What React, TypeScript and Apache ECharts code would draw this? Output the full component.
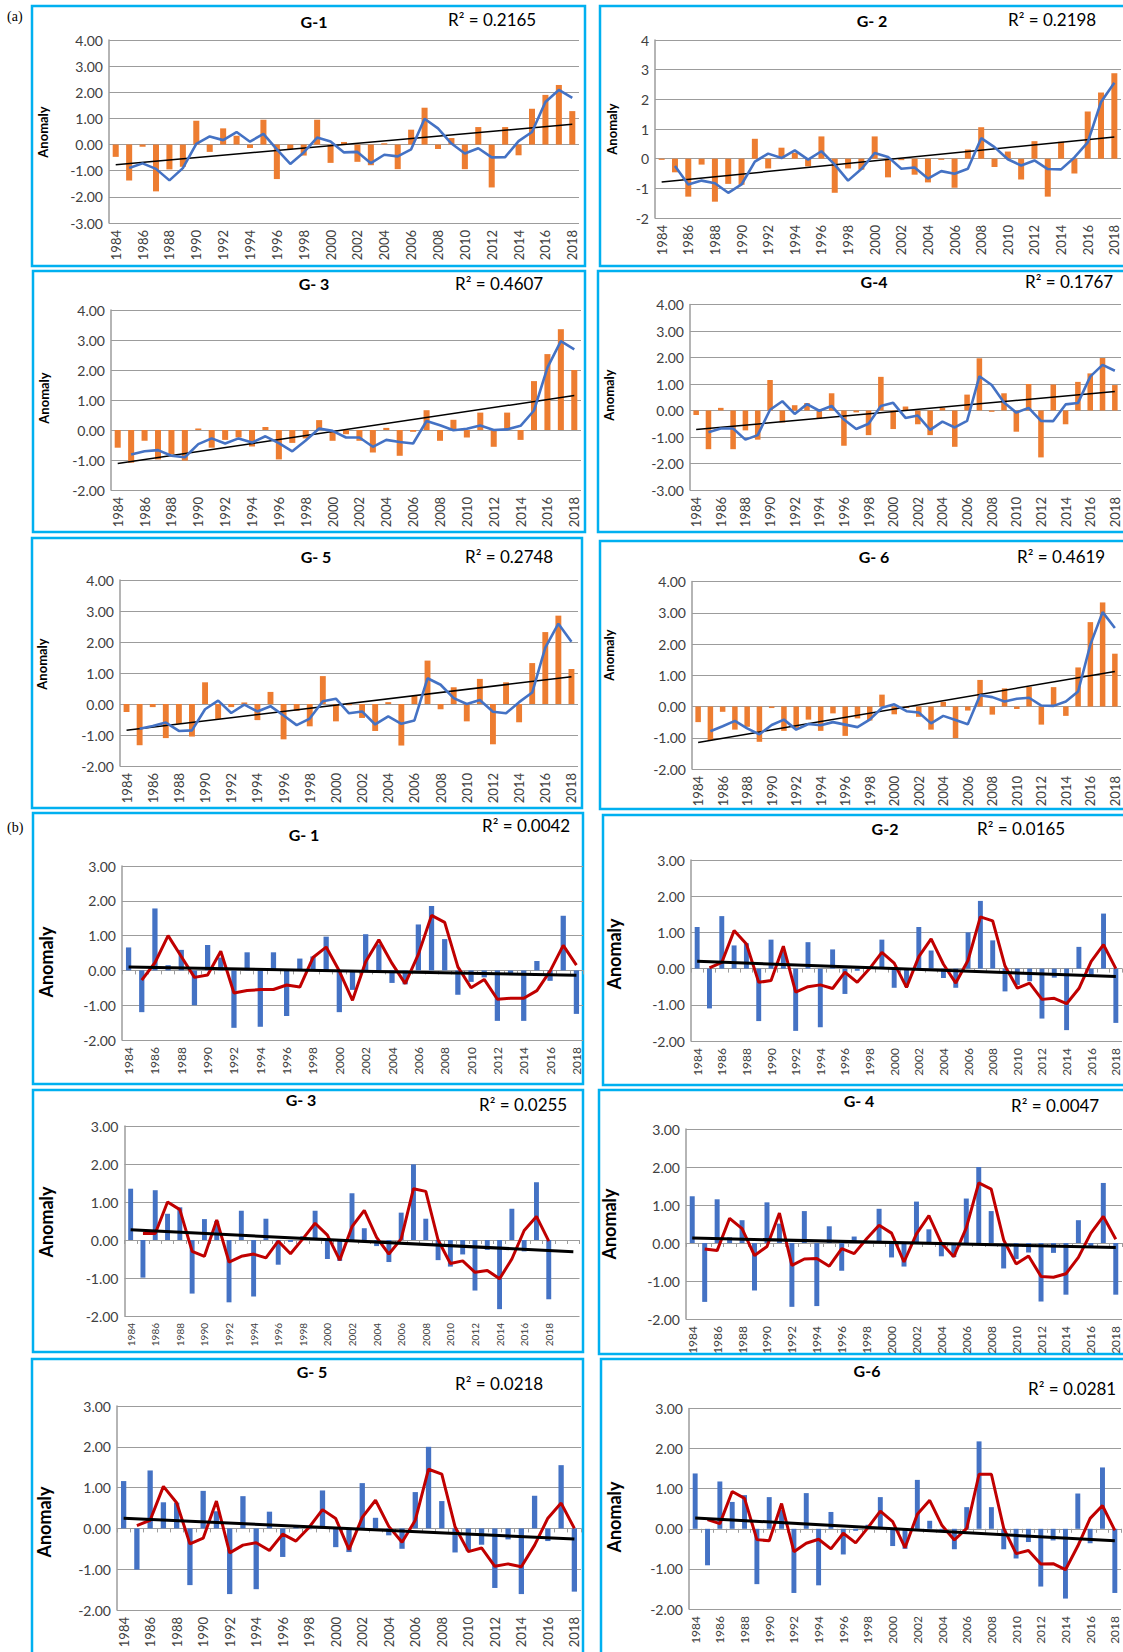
import React, { useEffect, useRef } from 'react';
import * as echarts from 'echarts';

// ---------- categories ----------
const years = ['1984','1985','1986','1987','1988','1989','1990','1991','1992','1993','1994','1995','1996','1997','1998','1999','2000','2001','2002','2003','2004','2005','2006','2007','2008','2009','2010','2011','2012','2013','2014','2015','2016','2017','2018'];
const yearsPadded = [...years, '', ''];

// ---------- (a) orange bars, blue 2-year moving average, linear trend ----------
const aG1Bars = [-0.47,-1.37,-0.08,-1.79,-0.95,-0.85,0.91,-0.28,0.62,0.34,-0.13,0.95,-1.32,-0.18,-0.42,0.95,-0.70,0.10,-0.66,-0.79,0.05,-0.94,0.57,1.41,-0.17,0.25,-0.94,0.67,-1.64,0.67,-0.41,1.37,1.90,2.28,1.28];
const aG1Avg = [null,-0.90,-0.72,-0.93,-1.37,-0.90,0.03,0.31,0.17,0.48,0.11,0.41,-0.18,-0.74,-0.30,0.27,0.12,-0.30,-0.28,-0.71,-0.39,-0.45,-0.18,0.99,0.62,0.04,-0.34,-0.14,-0.49,-0.48,0.13,0.48,1.63,2.09,1.79];
const aG1Trend = [-0.77, 0.78];

const aG2Bars = [-0.04,-0.46,-1.28,-0.20,-1.45,-0.85,-0.88,0.67,-0.33,0.37,0.20,-0.26,0.75,-1.15,-0.33,-0.37,0.75,-0.63,-0.05,-0.54,-0.80,-0.04,-0.98,0.31,1.06,-0.28,0.24,-0.70,0.59,-1.28,0.57,-0.50,1.59,2.23,2.88];
const aG2Avg = [null,-0.25,-0.87,-0.74,-0.83,-1.15,-0.87,-0.10,0.17,0.02,0.28,-0.03,0.25,-0.20,-0.74,-0.35,0.19,0.06,-0.34,-0.30,-0.67,-0.42,-0.51,-0.34,0.69,0.39,-0.02,-0.23,-0.06,-0.35,-0.36,0.04,0.55,1.91,2.56];
const aG2Trend = [-0.79, 0.73];

const aG3Bars = [-0.59,-1.09,-0.36,-0.98,-0.80,-1.02,0.05,-0.59,-0.33,-0.25,-0.55,0.10,-0.98,-0.43,-0.28,0.33,-0.36,-0.14,-0.36,-0.75,0.07,-0.86,-0.06,0.66,-0.36,0.34,-0.25,0.58,-0.56,0.58,-0.33,1.63,2.53,3.36,2.00];
const aG3Avg = [null,-0.82,-0.71,-0.67,-0.86,-0.91,-0.47,-0.28,-0.45,-0.28,-0.42,-0.21,-0.44,-0.71,-0.35,0.05,-0.03,-0.25,-0.25,-0.56,-0.33,-0.40,-0.45,0.30,0.16,-0.01,0.04,0.15,0.00,0.02,0.14,0.65,2.08,2.96,2.69];
const aG3Trend = [-1.12, 1.15];

const aG4Bars = [-0.17,-1.46,0.10,-1.46,-0.75,-1.10,1.15,-0.45,0.20,0.28,-0.30,0.65,-1.33,-0.07,-0.93,1.27,-0.70,0.15,-0.52,-0.93,0.10,-1.37,0.60,1.97,-0.05,0.65,-0.80,1.00,-1.77,0.98,-0.52,1.08,1.40,1.98,0.96];
const aG4Avg = [null,-0.82,-0.68,-0.68,-1.10,-0.93,0.03,0.35,-0.13,0.24,-0.01,0.17,-0.34,-0.70,-0.50,0.17,0.29,-0.28,-0.19,-0.73,-0.42,-0.64,-0.39,1.29,0.96,0.30,-0.08,0.10,-0.39,-0.40,0.23,0.28,1.28,1.72,1.50];
const aG4Trend = [-0.72, 0.72];

const aG5Bars = [-0.26,-1.33,-0.10,-1.10,-0.64,-1.05,0.70,-0.48,-0.10,0.05,-0.52,0.39,-1.14,-0.22,-0.72,0.90,-0.56,-0.04,-0.45,-0.87,0.06,-1.34,0.27,1.40,-0.17,0.54,-0.56,0.81,-1.30,0.70,-0.59,1.32,2.32,2.85,1.13];
const aG5Avg = [null,-0.80,-0.71,-0.60,-0.87,-0.85,-0.17,0.11,-0.29,-0.02,-0.24,-0.07,-0.37,-0.68,-0.47,0.09,0.17,-0.30,-0.24,-0.66,-0.40,-0.64,-0.53,0.83,0.62,0.19,0.00,0.13,-0.25,-0.30,0.06,0.37,1.82,2.59,2.01];
const aG5Trend = [-0.85, 0.88];

const aG6Bars = [-0.50,-1.08,-0.17,-0.74,-0.65,-1.13,-0.05,-0.78,-0.70,-0.42,-0.78,-0.22,-0.94,-0.38,-0.45,0.38,-0.25,-0.05,-0.33,-0.74,0.15,-1.01,-0.13,0.85,-0.26,0.58,-0.08,0.63,-0.58,0.62,-0.30,1.25,2.70,3.33,1.69];
const aG6Avg = [null,-0.79,-0.63,-0.46,-0.70,-0.89,-0.59,-0.42,-0.74,-0.56,-0.60,-0.50,-0.58,-0.66,-0.42,-0.04,0.07,-0.15,-0.19,-0.54,-0.30,-0.43,-0.57,0.36,0.30,0.16,0.25,0.28,0.03,0.02,0.16,0.48,1.98,3.02,2.51];
const aG6Trend = [-1.15, 1.12];

// ---------- (b) blue bars, red 2-year moving average, linear trend ----------
const bG1Bars = [0.66,-1.20,1.78,0.15,0.59,-1.00,0.73,0.37,-1.65,0.52,-1.62,0.52,-1.31,0.34,0.40,0.97,-1.20,-0.56,1.04,0.75,-0.36,-0.40,1.32,1.85,0.90,-0.70,-0.33,-0.20,-1.45,-0.10,-1.45,0.27,-0.30,1.57,-1.25];
const bG1Avg = [null,-0.28,0.22,1.00,0.40,-0.20,-0.13,0.55,-0.65,-0.58,-0.55,-0.55,-0.42,-0.48,0.37,0.67,-0.02,-0.86,0.25,0.88,0.20,-0.38,0.46,1.58,1.38,0.10,-0.50,-0.26,-0.83,-0.80,-0.80,-0.58,-0.02,0.72,0.15];
const bG1Trend = [0.10, -0.14];

const bG2Bars = [1.15,-1.10,1.45,0.64,0.70,-1.45,0.80,0.47,-1.72,0.73,-1.62,0.53,-0.70,-0.06,0.05,0.80,-0.53,-0.50,1.15,0.50,-0.26,-0.53,1.00,1.87,0.78,-0.63,-0.45,-0.35,-1.38,-0.25,-1.70,0.60,-0.20,1.52,-1.50];
const bG2Avg = [null,0.02,0.17,1.05,0.68,-0.38,-0.33,0.62,-0.65,-0.50,-0.45,-0.55,-0.10,-0.38,0.00,0.45,0.15,-0.52,0.33,0.82,0.12,-0.40,0.23,1.43,1.32,0.07,-0.54,-0.40,-0.85,-0.82,-0.97,-0.55,0.20,0.66,0.00];
const bG2Trend = [0.20, -0.22];

const bG3Bars = [1.35,-0.99,1.31,0.69,0.86,-1.41,0.55,0.50,-1.64,0.77,-1.49,0.56,-0.65,-0.05,0.10,0.77,-0.50,-0.55,1.23,0.31,-0.16,-0.58,0.72,1.99,0.56,-0.53,-0.70,-0.38,-1.33,-0.26,-1.82,0.82,-0.30,1.52,-1.56];
const bG3Avg = [null,0.17,0.17,1.00,0.80,-0.30,-0.43,0.53,-0.58,-0.43,-0.37,-0.47,-0.03,-0.36,0.03,0.44,0.13,-0.53,0.35,0.78,0.07,-0.37,0.03,1.35,1.28,0.00,-0.62,-0.55,-0.85,-0.80,-1.02,-0.50,0.25,0.62,-0.03];
const bG3Trend = [0.27, -0.31];

const bG4Bars = [1.23,-1.55,1.15,0.15,0.60,-1.25,1.07,0.51,-1.68,0.84,-1.66,0.44,-0.73,0.17,0.05,0.90,-0.38,-0.62,1.09,0.36,-0.35,-0.37,1.17,2.00,0.84,-0.67,-0.42,-0.25,-1.54,-0.26,-1.36,0.60,-0.10,1.58,-1.36];
const bG4Avg = [null,-0.16,-0.20,0.65,0.38,-0.33,-0.09,0.79,-0.59,-0.42,-0.41,-0.61,-0.15,-0.28,0.11,0.47,0.26,-0.50,0.24,0.72,0.00,-0.36,0.40,1.58,1.42,0.08,-0.55,-0.34,-0.88,-0.90,-0.81,-0.38,0.26,0.70,0.10];
const bG4Trend = [0.13, -0.12];

const bG5Bars = [1.16,-1.01,1.42,0.64,0.63,-1.39,0.92,0.42,-1.61,0.79,-1.49,0.41,-0.70,0.08,-0.02,0.93,-0.46,-0.58,1.11,0.26,-0.17,-0.50,0.89,2.00,0.67,-0.59,-0.55,-0.40,-1.46,-0.27,-1.61,0.80,-0.31,1.55,-1.55];
const bG5Avg = [null,0.07,0.20,1.03,0.63,-0.38,-0.24,0.67,-0.60,-0.41,-0.35,-0.54,-0.14,-0.31,0.03,0.46,0.24,-0.52,0.27,0.69,0.05,-0.34,0.20,1.45,1.33,0.04,-0.57,-0.48,-0.93,-0.87,-0.94,-0.41,0.25,0.62,0.00];
const bG5Trend = [0.25, -0.26];

const bG6Bars = [1.38,-0.91,1.18,0.67,0.84,-1.38,0.79,0.47,-1.60,0.89,-1.41,0.42,-0.64,-0.05,0.10,0.79,-0.43,-0.50,1.22,0.20,-0.04,-0.51,0.54,2.18,0.54,-0.51,-0.74,-0.33,-1.44,-0.29,-1.74,0.88,-0.36,1.53,-1.60];
const bG6Avg = [null,0.23,0.13,0.93,0.76,-0.27,-0.30,0.63,-0.57,-0.36,-0.26,-0.50,-0.11,-0.35,0.03,0.44,0.18,-0.47,0.36,0.71,0.08,-0.28,0.01,1.36,1.36,0.01,-0.62,-0.54,-0.88,-0.87,-1.02,-0.43,0.26,0.58,-0.04];
const bG6Trend = [0.27, -0.30];

// ---------- panel layout (positions / sizes only) ----------
type Panel = {
  kind: 'a' | 'b';
  title: string;
  r2: string;
  cats: string[];
  bars: number[];
  avg: (number | null)[];
  trend: number[];
  yMin: number;
  yMax: number;
  dec: number;
  grid: number[];
  box: number[];
  titleAt: number[];
  r2At: number[];
  anomalyAt: number[];
  xFont: number;
};

const panels: Panel[] = [
  { kind: 'a', title: 'G-1', r2: '0.2165', cats: years, bars: aG1Bars, avg: aG1Avg, trend: aG1Trend, yMin: -3, yMax: 4, dec: 2,
    grid: [109, 40, 470, 183], box: [32, 6, 553, 260], titleAt: [314, 21], r2At: [448, 19], anomalyAt: [43, 132], xFont: 13 },
  { kind: 'a', title: 'G- 2', r2: '0.2198', cats: years, bars: aG2Bars, avg: aG2Avg, trend: aG2Trend, yMin: -2, yMax: 4, dec: 0,
    grid: [655, 40, 466, 178], box: [600, 6, 540, 260], titleAt: [872, 20], r2At: [1008, 19], anomalyAt: [612, 129], xFont: 13 },
  { kind: 'a', title: 'G- 3', r2: '0.4607', cats: years, bars: aG3Bars, avg: aG3Avg, trend: aG3Trend, yMin: -2, yMax: 4, dec: 2,
    grid: [111, 310, 470, 180], box: [33, 271, 552, 261], titleAt: [314, 283], r2At: [455, 283], anomalyAt: [44, 398], xFont: 13 },
  { kind: 'a', title: 'G-4', r2: '0.1767', cats: years, bars: aG4Bars, avg: aG4Avg, trend: aG4Trend, yMin: -3, yMax: 4, dec: 2,
    grid: [690, 304.5, 431, 185.5], box: [598, 271, 540, 261], titleAt: [874, 281], r2At: [1025, 281], anomalyAt: [609, 395], xFont: 13 },
  { kind: 'a', title: 'G- 5', r2: '0.2748', cats: years, bars: aG5Bars, avg: aG5Avg, trend: aG5Trend, yMin: -2, yMax: 4, dec: 2,
    grid: [120, 580, 458, 186], box: [32, 538, 550, 270], titleAt: [316, 556], r2At: [465, 556], anomalyAt: [42, 664], xFont: 13 },
  { kind: 'a', title: 'G- 6', r2: '0.4619', cats: years, bars: aG6Bars, avg: aG6Avg, trend: aG6Trend, yMin: -2, yMax: 4, dec: 2,
    grid: [692, 581.5, 429, 187.5], box: [600, 541, 540, 268], titleAt: [874, 556], r2At: [1017, 556], anomalyAt: [609, 655], xFont: 13 },
  { kind: 'b', title: 'G- 1', r2: '0.0042', cats: years, bars: bG1Bars, avg: bG1Avg, trend: bG1Trend, yMin: -2, yMax: 3, dec: 2,
    grid: [122, 866, 461, 174], box: [33, 813, 550, 271], titleAt: [304, 834], r2At: [482, 825], anomalyAt: [46, 962], xFont: 12 },
  { kind: 'b', title: 'G-2', r2: '0.0165', cats: years, bars: bG2Bars, avg: bG2Avg, trend: bG2Trend, yMin: -2, yMax: 3, dec: 2,
    grid: [691, 860, 431, 181], box: [603, 815, 540, 270], titleAt: [885, 828], r2At: [977, 828], anomalyAt: [614, 954], xFont: 12 },
  { kind: 'b', title: 'G- 3', r2: '0.0255', cats: yearsPadded, bars: bG3Bars, avg: bG3Avg, trend: bG3Trend, yMin: -2, yMax: 3, dec: 2,
    grid: [124.5, 1126, 455, 190], box: [33, 1090, 550, 262], titleAt: [301, 1099], r2At: [479, 1104], anomalyAt: [46, 1222], xFont: 10 },
  { kind: 'b', title: 'G- 4', r2: '0.0047', cats: years, bars: bG4Bars, avg: bG4Avg, trend: bG4Trend, yMin: -2, yMax: 3, dec: 2,
    grid: [686, 1129, 436, 190], box: [599, 1090, 540, 264], titleAt: [859, 1100], r2At: [1011, 1105], anomalyAt: [609, 1224], xFont: 12 },
  { kind: 'b', title: 'G- 5', r2: '0.0218', cats: years, bars: bG5Bars, avg: bG5Avg, trend: bG5Trend, yMin: -2, yMax: 3, dec: 2,
    grid: [117, 1406, 464, 204], box: [32, 1359, 551, 310], titleAt: [312, 1371], r2At: [455, 1383], anomalyAt: [44, 1522], xFont: 13 },
  { kind: 'b', title: 'G-6', r2: '0.0281', cats: years, bars: bG6Bars, avg: bG6Avg, trend: bG6Trend, yMin: -2, yMax: 3, dec: 2,
    grid: [689, 1408.5, 432, 200.5], box: [601, 1359, 540, 310], titleAt: [867, 1370], r2At: [1028, 1388], anomalyAt: [614, 1517], xFont: 12 },
];

const FONT = 'Lato, "Open Sans", "Liberation Sans", sans-serif';
const GRID_GREY = '#9C9C9C';
const LABEL = '#404040';

function buildOption() {
  const grid: any[] = [];
  const xAxis: any[] = [];
  const yAxis: any[] = [];
  const series: any[] = [];
  const graphic: any[] = [];

  panels.forEach((p, i) => {
    const isA = p.kind === 'a';
    grid.push({ left: p.grid[0], top: p.grid[1], width: p.grid[2], height: p.grid[3] });

    const xi = xAxis.length;
    xAxis.push({
      gridIndex: i,
      type: 'category',
      data: p.cats,
      position: 'bottom',
      boundaryGap: true,
      axisLine: { show: false, onZero: false },
      axisTick: { show: false },
      splitLine: { show: false },
      axisLabel: { interval: 1, rotate: 90, fontSize: p.xFont, color: LABEL, fontFamily: FONT, margin: 7 },
    });
    if (!isA) {
      xAxis.push({
        gridIndex: i,
        type: 'category',
        data: p.cats,
        position: 'top',
        boundaryGap: true,
        axisLine: { show: true, onZero: true, lineStyle: { color: GRID_GREY, width: 1 } },
        axisTick: { show: true, inside: true, length: 4, interval: 0, lineStyle: { color: GRID_GREY } },
        axisLabel: { show: false },
        splitLine: { show: false },
      });
    }

    yAxis.push({
      gridIndex: i,
      type: 'value',
      min: p.yMin,
      max: p.yMax,
      interval: 1,
      axisLine: { show: true, lineStyle: { color: GRID_GREY, width: 1.5 } },
      axisTick: { show: false },
      splitLine: { show: true, lineStyle: { color: GRID_GREY, width: 1.2 } },
      axisLabel: {
        fontSize: 14,
        color: LABEL,
        fontFamily: FONT,
        margin: 6,
        formatter: (v: number) => (p.dec === 0 ? String(v) : v.toFixed(p.dec)),
      },
    });

    const trendEnd = p.cats.length - 1;
    const barSeries = {
      type: 'bar',
      xAxisIndex: xi,
      yAxisIndex: i,
      data: p.bars,
      barWidth: isA ? '45%' : '40%',
      itemStyle: { color: isA ? '#ED7D31' : '#4472C4' },
      silent: true,
    };
    const avgSeries = {
      type: 'line',
      xAxisIndex: xi,
      yAxisIndex: i,
      data: p.avg,
      symbol: 'none',
      connectNulls: false,
      lineStyle: { color: isA ? '#4472C4' : '#C00000', width: isA ? 2.6 : 3 },
      silent: true,
    };
    const trendSeries = {
      type: 'line',
      xAxisIndex: xi,
      yAxisIndex: i,
      data: [[0, p.trend[0]], [trendEnd, p.trend[1]]],
      symbol: 'none',
      lineStyle: { color: '#000000', width: isA ? 1.5 : 3 },
      silent: true,
    };
    if (isA) series.push(barSeries, trendSeries, avgSeries);
    else series.push(barSeries, avgSeries, trendSeries);

    graphic.push({
      type: 'rect',
      silent: true,
      shape: { x: p.box[0], y: p.box[1], width: p.box[2], height: p.box[3] },
      style: { fill: 'none', stroke: '#00B0F0', lineWidth: 2.5 },
    });
    graphic.push({
      type: 'text',
      silent: true,
      x: p.titleAt[0],
      y: p.titleAt[1],
      style: { text: p.title, fontSize: 16, fontWeight: 'bold', fontFamily: FONT, fill: '#000', align: 'center', verticalAlign: 'middle' },
    });
    graphic.push({
      type: 'text',
      silent: true,
      x: p.r2At[0],
      y: p.r2At[1],
      style: { text: 'R\u00B2 = ' + p.r2, fontSize: 17, fontFamily: FONT, fill: '#000', align: 'left', verticalAlign: 'middle' },
    });
    graphic.push({
      type: 'text',
      silent: true,
      x: p.anomalyAt[0],
      y: p.anomalyAt[1],
      rotation: Math.PI / 2,
      style: { text: 'Anomaly', fontSize: isA ? 13 : 18, fontWeight: 'bold', fontFamily: FONT, fill: '#000', align: 'center', verticalAlign: 'middle' },
    });
  });

  graphic.push({
    type: 'text', silent: true, x: 7, y: 16,
    style: { text: '(a)', fontSize: 14, fontFamily: '"Liberation Serif", serif', fill: '#000', align: 'left', verticalAlign: 'middle' },
  });
  graphic.push({
    type: 'text', silent: true, x: 7, y: 827,
    style: { text: '(b)', fontSize: 14, fontFamily: '"Liberation Serif", serif', fill: '#000', align: 'left', verticalAlign: 'middle' },
  });

  return {
    animation: false,
    backgroundColor: '#ffffff',
    grid,
    xAxis,
    yAxis,
    series,
    graphic,
  };
}

export default function App() {
  const ref = useRef<HTMLDivElement | null>(null);
  useEffect(() => {
    if (!ref.current) return;
    const chart = echarts.init(ref.current, undefined, { renderer: 'svg' });
    chart.setOption(buildOption() as any);
    return () => chart.dispose();
  }, []);
  return (
    <div
      ref={ref}
      style={{ position: 'absolute', left: 0, top: 0, width: 1123, height: 1652, background: '#fff' }}
    />
  );
}
